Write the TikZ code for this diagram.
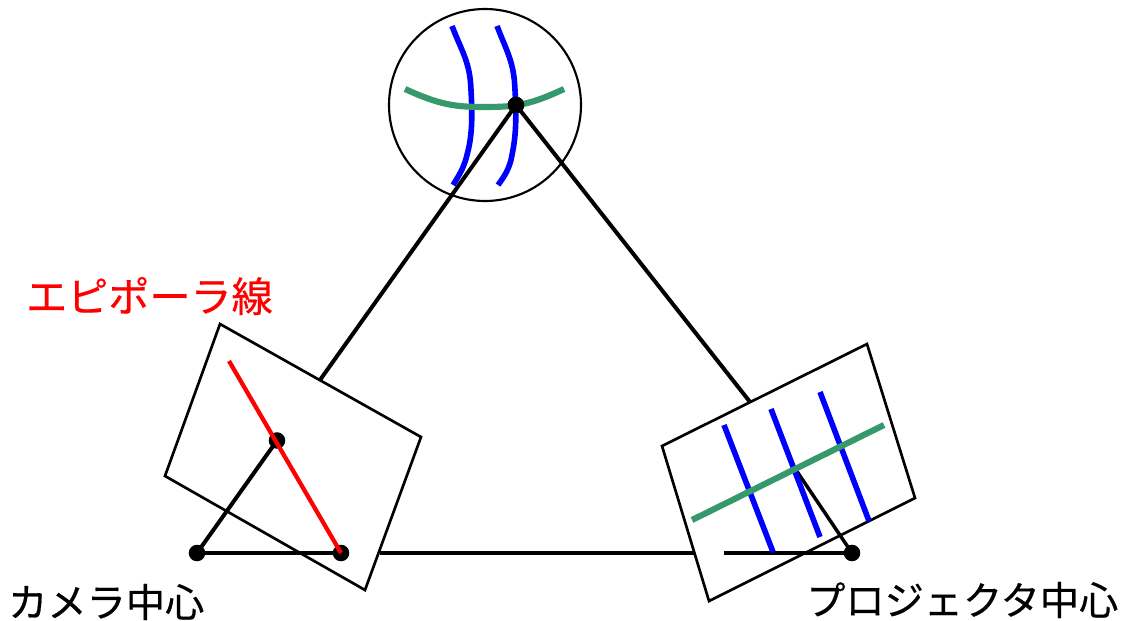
\documentclass[tikz,border=0pt]{standalone}
\usepackage{fontspec}
\newfontfamily\cjk[FakeBold=0.5]{Noto Sans CJK JP}
\definecolor{linegreen}{HTML}{36996B}
\usetikzlibrary{positioning}

\begin{document}
\begin{tikzpicture}[
  x=0.75pt, y=-0.75pt,
  font=\cjk,
  dot/.style={circle, fill=black, minimum size=12.4pt, inner sep=0pt},
  plane/.style={draw=black, line width=2pt, line join=miter},
  ray/.style={draw=black, line width=3pt},
  blueline/.style={draw=blue, line width=4.2pt},
  greenline/.style={draw=linegreen, line width=4.6pt},
  label/.style={inner sep=0pt, anchor=west, font=\cjk\fontsize{29.4}{29.4}\selectfont}
]
\useasboundingbox (0,0) rectangle (1128,621);

% points
\node[dot] (scene) at (516,105) {};
\node[dot] (camera) at (197,553) {};
\node[dot] (camimg) at (277,440.5) {};
\node[dot] (epipole) at (341,553) {};
\node[dot] (projector) at (852,553) {};

\coordinate (camhit) at (320,380);
\coordinate (prohit) at (750,402);
\coordinate (baseA) at (380,553);
\coordinate (baseB) at (694,553);
\coordinate (baseC) at (724,553);
\coordinate (proimg) at (796,470);
\coordinate (redend) at (229,361);

% scene circle
\node[draw=black, line width=1.6pt, circle, minimum size=144pt, inner sep=0pt] (sphere) at (485,105) {};

% rays
\draw[ray] (scene.center) -- (camhit);
\draw[ray] (scene.center) -- (prohit);
\draw[ray] (camera.center) -- (camimg.center);
\draw[ray] (camera.center) -- (epipole.center);
\draw[ray] (baseA) -- (baseB);
\draw[ray] (baseC) -- (projector.center);
\draw[ray, line width=2.6pt] (projector.center) -- (proimg);

% image planes
\draw[plane] (220,324) -- (421,437) -- (365,590) -- (165,476) -- cycle;
\draw[plane] (867,344) -- (915,498) -- (709,601) -- (662,446) -- cycle;

% curves on the scene
\draw[blueline] (452,26) .. controls (462,52) and (470,62) .. (471,90) .. controls (473,125) and (471,140) .. (467,155) .. controls (464,168) and (458,177) .. (453,185);
\draw[blueline] (497,26) .. controls (507,52) and (514,62) .. (515,90) .. controls (517,125) and (515,140) .. (512,155) .. controls (510,168) and (504,177) .. (498,185);
\draw[greenline] (405,89) .. controls (440,105) and (455,107) .. (485,107) .. controls (515,107) and (530,105) .. (564,89);
\node[dot] at (scene) {};

% lines on the projector plane
\draw[blueline] (724,425) -- (773,552);
\draw[blueline] (771,409) -- (820,537);
\draw[blueline] (820,392) -- (869,521);
\draw[greenline] (692,520) -- (884,425);

% epipolar line
\draw[draw=red, line width=3.2pt] (redend) -- (epipole.center);

% labels
\node[label] (camlabel) at (8,602) {カメラ中心};
\node[label] (prolabel) at (806,600) {プロジェクタ中心};
\node[label, text=red, font=\cjk\fontsize{30.8}{30.8}\selectfont] (redlabel) at (26,296) {エピポーラ線};
\end{tikzpicture}
\end{document}
